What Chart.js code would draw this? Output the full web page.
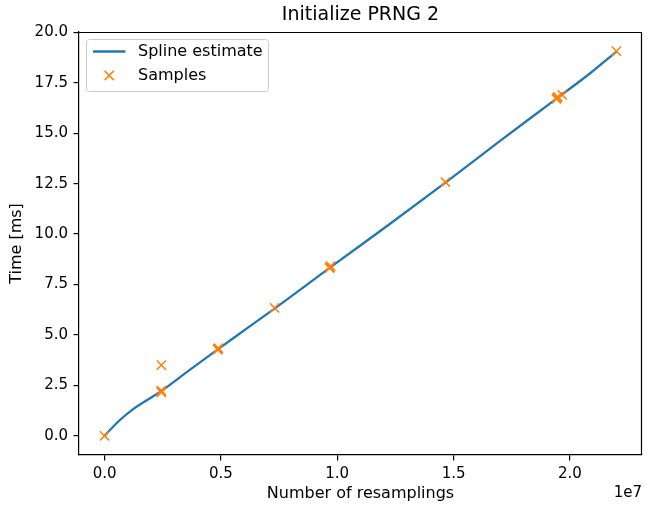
<!DOCTYPE html>
<html>
<head>
<meta charset="utf-8">
<script src="https://cdn.jsdelivr.net/npm/chart.js@4/dist/chart.umd.min.js"></script>
<style>
  html, body { margin: 0; padding: 0; background: #fff; }
  canvas { display: block; }
</style>
</head>
<body>
<canvas id="c" width="650" height="507"></canvas>
<script>
// ---- data ----
const titleText = 'Initialize PRNG 2';
const xLabel = 'Number of resamplings';
const yLabel = 'Time [ms]';
const seriesNames = ['Spline estimate', 'Samples'];

const sampleX = [0, 2.44e6, 2.44e6, 2.44e6, 2.44e6, 4.86e6, 4.88e6, 4.89e6,
                 7.31e6, 9.67e6, 9.69e6, 9.72e6, 14.65e6, 19.42e6, 19.45e6, 19.48e6, 19.67e6, 22.0e6];
const sampleY = [0.0, 2.15, 2.20, 2.24, 3.50, 4.27, 4.31, 4.34,
                 6.34, 8.31, 8.36, 8.41, 12.58, 16.70, 16.76, 16.80, 16.90, 19.07];

const splineX = [0, 0.6e6, 1.2e6, 2.44e6, 3.66e6, 4.88e6, 6.1e6, 7.32e6, 8.5e6, 9.7e6,
                 12.2e6, 14.65e6, 17.0e6, 19.5e6, 20.9e6, 22.0e6];
const splineY = [0.0, 0.72, 1.30, 2.22, 3.27, 4.30, 5.31, 6.32, 7.32, 8.35,
                 10.45, 12.55, 14.62, 16.78, 18.00, 19.05];

const xTicks = [0, 5e6, 10e6, 15e6, 20e6];
const yTicks = [0, 2.5, 5, 7.5, 10, 12.5, 15, 17.5, 20];
const xOffsetLabel = '1e7';

const BLUE = '#1f77b4', ORANGE = '#ff7f0e';
const FONT = 'DejaVu Sans';

const framePlugin = {
  id: 'frame',
  afterDraw(chart) {
    const {ctx, chartArea: a} = chart;
    ctx.save();
    ctx.strokeStyle = '#000';
    ctx.lineWidth = 1.2;
    ctx.beginPath();
    ctx.moveTo(a.left, a.top + 0.5);
    ctx.lineTo(a.right, a.top + 0.5);
    ctx.moveTo(a.right - 0.5, a.top);
    ctx.lineTo(a.right - 0.5, a.bottom);
    ctx.stroke();

    // title centred over the axes
    ctx.fillStyle = '#000';
    ctx.font = '19px "' + FONT + '"';
    ctx.textAlign = 'center';
    ctx.textBaseline = 'middle';
    ctx.fillText(titleText, (a.left + a.right) / 2, 15);

    // offset text for x axis
    ctx.font = '15px "' + FONT + '"';
    ctx.textAlign = 'right';
    ctx.fillText(xOffsetLabel, a.right, 493);

    // legend (upper left, inside axes)
    const bx = a.left + 7.5, by = a.top + 7.5, bw = 182, bh = 52;
    ctx.fillStyle = 'rgba(255,255,255,0.8)';
    ctx.strokeStyle = '#cccccc';
    ctx.lineWidth = 1;
    ctx.beginPath();
    if (ctx.roundRect) ctx.roundRect(bx, by, bw, bh, 3); else ctx.rect(bx, by, bw, bh);
    ctx.fill();
    ctx.stroke();

    const ds = chart.data.datasets;
    const spl = ds.find(d => d.label === seriesNames[0]);
    const smp = ds.find(d => d.label === seriesNames[1]);
    const row1 = by + 12, row2 = by + 36;
    const hx0 = bx + 6.5, hx1 = bx + 39, tx = bx + 51.5;
    ctx.strokeStyle = spl.borderColor;
    ctx.lineWidth = 2.3;
    ctx.beginPath();
    ctx.moveTo(hx0, row1);
    ctx.lineTo(hx1, row1);
    ctx.stroke();
    const cx = (hx0 + hx1) / 2, r = 4.6;
    ctx.strokeStyle = smp.borderColor;
    ctx.lineWidth = 1.5;
    ctx.beginPath();
    ctx.moveTo(cx - r, row2 - r); ctx.lineTo(cx + r, row2 + r);
    ctx.moveTo(cx + r, row2 - r); ctx.lineTo(cx - r, row2 + r);
    ctx.stroke();
    ctx.fillStyle = '#000';
    ctx.font = '16px "' + FONT + '"';
    ctx.textAlign = 'left';
    ctx.textBaseline = 'middle';
    ctx.fillText(spl.label, tx, row1);
    ctx.fillText(smp.label, tx, row2);
    ctx.restore();
  }
};

new Chart(document.getElementById('c'), {
  type: 'scatter',
  data: {
    datasets: [
      {
        label: seriesNames[1],
        data: sampleX.map((x, i) => ({x, y: sampleY[i]})),
        showLine: false,
        pointStyle: 'crossRot',
        pointRadius: 6.5,
        pointBorderWidth: 1.5,
        borderColor: ORANGE,
        backgroundColor: ORANGE,
        order: 0
      },
      {
        label: seriesNames[0],
        data: splineX.map((x, i) => ({x, y: splineY[i]})),
        showLine: true,
        cubicInterpolationMode: 'monotone',
        borderColor: BLUE,
        backgroundColor: BLUE,
        borderWidth: 2.3,
        pointRadius: 0,
        order: 1
      }
    ]
  },
  options: {
    responsive: false,
    animation: false,
    layout: { padding: { left: 7.5, right: 2, top: 32, bottom: 3.5 } },
    plugins: {
      legend: { display: false },
      tooltip: { enabled: false },
      title: { display: false }
    },
    scales: {
      x: {
        type: 'linear', min: -1.1e6, max: 23.1e6,
        afterBuildTicks: s => { s.ticks = xTicks.map(v => ({value: v})); },
        afterFit: s => { s.height = 48.5; },
        ticks: {
          color: '#000', font: { family: FONT, size: 15 }, padding: 4.5,
          maxRotation: 0, autoSkip: false,
          callback: v => (v / 1e7).toFixed(1)
        },
        grid: { drawOnChartArea: false, drawTicks: true, tickLength: 5.5, tickWidth: 1.2, color: '#000', lineWidth: 1.2 },
        border: { display: true, color: '#000', width: 1.2 },
        title: { display: true, text: xLabel, color: '#000', font: { family: FONT, size: 16 }, padding: 0 }
      },
      y: {
        type: 'linear', min: -0.953, max: 20.02,
        afterBuildTicks: s => { s.ticks = yTicks.map(v => ({value: v})); },
        afterFit: s => { s.width = 71.5; },
        ticks: {
          color: '#000', font: { family: FONT, size: 15 }, padding: 5.5, autoSkip: false,
          callback: v => v.toFixed(1)
        },
        grid: { drawOnChartArea: false, drawTicks: true, tickLength: 5.5, tickWidth: 1.2, color: '#000', lineWidth: 1.2 },
        border: { display: true, color: '#000', width: 1.2 },
        title: { display: true, text: yLabel, color: '#000', font: { family: FONT, size: 16 }, padding: 0 }
      }
    }
  },
  plugins: [framePlugin]
});
</script>
</body>
</html>
